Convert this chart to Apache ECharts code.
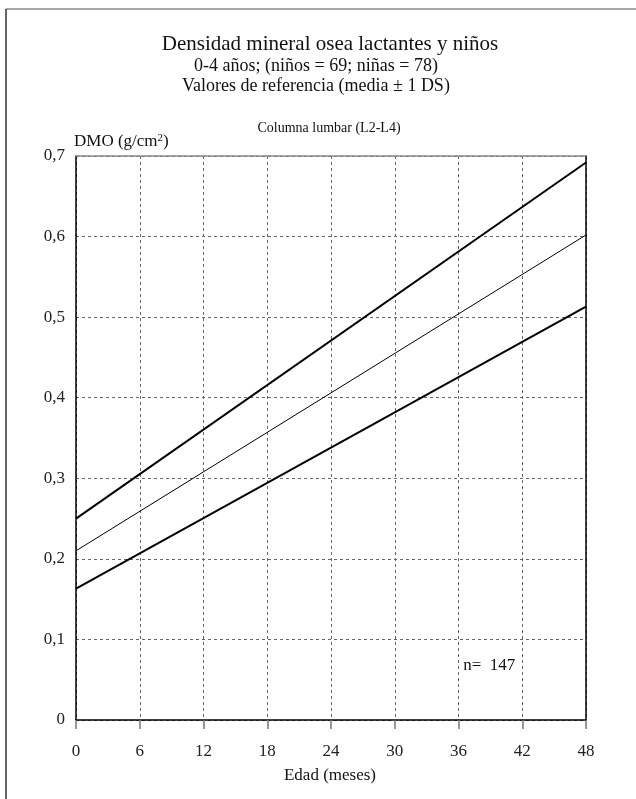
<!DOCTYPE html>
<html>
<head>
<meta charset="utf-8">
<script src="https://cdn.jsdelivr.net/npm/echarts@6/dist/echarts.min.js"></script>
<style>
html,body{margin:0;padding:0;background:#fff;}
#chart{width:636px;height:799px;}
</style>
</head>
<body>
<div id="chart"></div>
<script>
// ---- data ----
var months = [0, 48];
var upperSD = [0.25, 0.692];
var meanValues = [0.21, 0.602];
var lowerSD = [0.163, 0.513];
var xTicks = [0, 6, 12, 18, 24, 30, 36, 42, 48];
var yTicks = [0, 0.1, 0.2, 0.3, 0.4, 0.5, 0.6, 0.7];
var nLabel = 'n=  147';
var nLabelAt = [38.9, 0.068];

var FONT = '"Liberation Serif", "DejaVu Serif", serif';

function pairs(xs, ys) { return xs.map(function (x, i) { return [x, ys[i]]; }); }

var chart = echarts.init(document.getElementById('chart'), null, {renderer: 'canvas'});

var option = {
  backgroundColor: '#fff',
  animation: false,
  grid: {left: 76, right: 50, top: 156, bottom: 79},
  xAxis: [{
    type: 'value', min: 0, max: 48, interval: 6,
    axisLine: {show: true, onZero: false, lineStyle: {color: '#000', width: 1.5}},
    axisTick: {show: true, length: 9, lineStyle: {color: '#777', width: 1.5}},
    axisLabel: {margin: 23, color: '#222', fontFamily: FONT, fontSize: 17,
      formatter: function (v) { return xTicks.indexOf(v) >= 0 ? String(v) : ''; }},
    splitLine: {show: true, lineStyle: {color: '#666', type: [3, 3], width: 1}}
  }, {
    type: 'value', position: 'top', min: 0, max: 48, interval: 6,
    axisLine: {show: true, onZero: false, lineStyle: {color: '#888', width: 1.5}},
    axisTick: {show: false}, axisLabel: {show: false}, splitLine: {show: false}
  }],
  yAxis: [{
    type: 'value', min: 0, max: 0.7, interval: 0.1,
    axisLine: {show: true, onZero: false, lineStyle: {color: '#000', width: 1.5}},
    axisTick: {show: false},
    axisLabel: {margin: 11, color: '#222', fontFamily: FONT, fontSize: 17,
      formatter: function (v) {
        var r = Math.round(v * 10) / 10;
        return r === 0 ? '0' : String(r).replace('.', ',');
      }},
    splitLine: {show: true, lineStyle: {color: '#666', type: [3, 3], width: 1}}
  }, {
    type: 'value', position: 'right', min: 0, max: 0.7, interval: 0.1,
    axisLine: {show: true, onZero: false, lineStyle: {color: '#000', width: 1.5}},
    axisTick: {show: false}, axisLabel: {show: false}, splitLine: {show: false}
  }],
  series: [{
    type: 'line', name: '+1 DS', data: pairs(months, upperSD), showSymbol: false,
    lineStyle: {color: '#000', width: 2}
  }, {
    type: 'line', name: 'media', data: pairs(months, meanValues), showSymbol: false,
    lineStyle: {color: '#000', width: 1},
    markPoint: {
      symbol: 'circle', symbolSize: 0,
      data: [{coord: nLabelAt, value: nLabel}],
      label: {show: true, position: 'inside', formatter: nLabel, color: '#111',
        fontFamily: FONT, fontSize: 17}
    }
  }, {
    type: 'line', name: '-1 DS', data: pairs(months, lowerSD), showSymbol: false,
    lineStyle: {color: '#000', width: 2}
  }],
  graphic: [
    {type: 'line', shape: {x1: 6, y1: 9, x2: 636, y2: 9}, style: {stroke: '#888', lineWidth: 1.5}},
    {type: 'line', shape: {x1: 6, y1: 9, x2: 6, y2: 799}, style: {stroke: '#333', lineWidth: 1.5}},
    {type: 'text', x: 330, y: 44, style: {text: 'Densidad mineral osea lactantes y niños', font: '21px ' + FONT, fill: '#111', textAlign: 'center', textVerticalAlign: 'middle'}},
    {type: 'text', x: 316, y: 66, style: {text: '0-4 años; (niños = 69; niñas = 78)', font: '18px ' + FONT, fill: '#111', textAlign: 'center', textVerticalAlign: 'middle'}},
    {type: 'text', x: 316, y: 86, style: {text: 'Valores de referencia (media ± 1 DS)', font: '18px ' + FONT, fill: '#111', textAlign: 'center', textVerticalAlign: 'middle'}},
    {type: 'text', x: 329, y: 128, style: {text: 'Columna lumbar (L2-L4)', font: '14px ' + FONT, fill: '#111', textAlign: 'center', textVerticalAlign: 'middle'}},
    {type: 'text', x: 74, y: 142, style: {
      text: '{a|DMO (g/cm}{s|2}{a|)}', textVerticalAlign: 'middle', textAlign: 'left',
      rich: {a: {font: '17px ' + FONT, fill: '#111'}, s: {font: '11px ' + FONT, fill: '#111', verticalAlign: 'top', padding: [0, 0, 8, 0]}}
    }},
    {type: 'text', x: 330, y: 776, style: {text: 'Edad (meses)', font: '17px ' + FONT, fill: '#111', textAlign: 'center', textVerticalAlign: 'middle'}}
  ]
};
chart.setOption(option);
</script>
</body>
</html>
